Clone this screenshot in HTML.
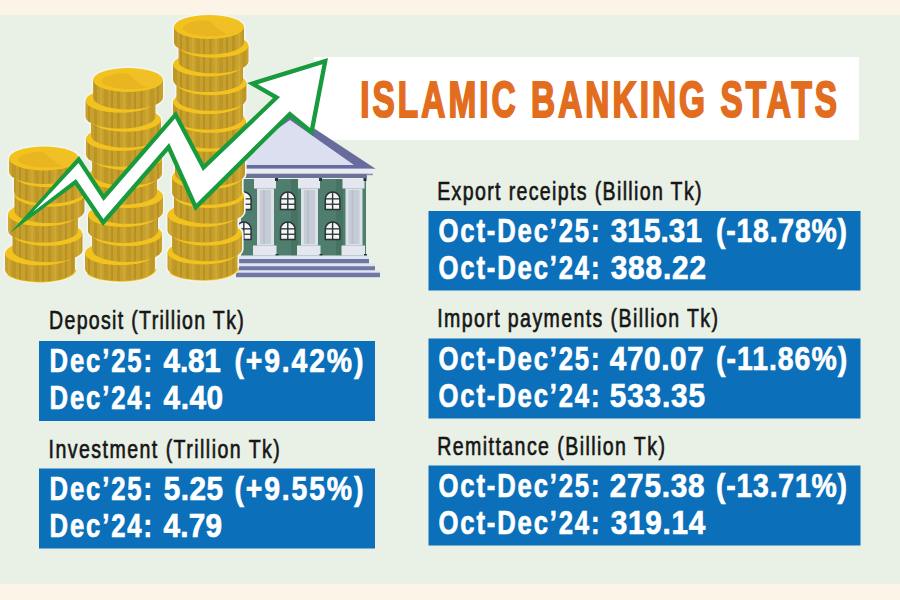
<!DOCTYPE html>
<html><head><meta charset="utf-8">
<style>
html,body{margin:0;padding:0;width:900px;height:600px;overflow:hidden;background:#e9f0e6;}
svg{display:block;}
.lab{font-family:"Liberation Sans",sans-serif;font-size:25.4px;fill:#161616;stroke:#161616;stroke-width:0.65px;}
.val{font-family:"Liberation Sans",sans-serif;font-weight:bold;font-size:33.8px;fill:#ffffff;stroke:#ffffff;stroke-width:0.7px;}
.ttl{font-family:"Liberation Sans",sans-serif;font-weight:bold;font-size:50.5px;fill:#e26d1e;stroke:#e26d1e;stroke-width:2.1px;}
</style></head>
<body>
<svg width="900" height="600" viewBox="0 0 900 600">
<rect x="0" y="0" width="900" height="600" fill="#e9f0e6"/>
<rect x="0" y="0" width="900" height="15" fill="#fdf4e8"/>
<rect x="0" y="584" width="900" height="16" fill="#fdf4e8"/>
<rect x="314" y="57" width="545" height="83" fill="#ffffff"/>
<rect x="39" y="341" width="336" height="80" fill="#0b6fb9"/>
<rect x="39" y="468.5" width="336" height="80" fill="#0b6fb9"/>
<rect x="428.5" y="211" width="432" height="79.5" fill="#0b6fb9"/>
<rect x="428.5" y="338.5" width="432" height="80" fill="#0b6fb9"/>
<rect x="428.5" y="465.5" width="432" height="80" fill="#0b6fb9"/>
<text class="lab" letter-spacing="1.710" transform="translate(49.03,329.30) scale(0.7700,1)">Deposit (Trillion Tk)</text>
<text class="lab" letter-spacing="1.896" transform="translate(48.53,457.50) scale(0.7700,1)">Investment (Trillion Tk)</text>
<text class="lab" letter-spacing="1.758" transform="translate(437.23,199.50) scale(0.7700,1)">Export receipts (Billion Tk)</text>
<text class="lab" letter-spacing="1.816" transform="translate(437.23,327.00) scale(0.7700,1)">Import payments (Billion Tk)</text>
<text class="lab" letter-spacing="1.855" transform="translate(437.23,454.50) scale(0.7700,1)">Remittance (Billion Tk)</text>
<text class="val" letter-spacing="2.452" transform="translate(49.54,372.20) scale(0.7600,1)">Dec’25:</text>
<text class="val" letter-spacing="-0.250" transform="translate(163.58,372.20) scale(0.8800,1)">4.81</text>
<text class="val" letter-spacing="2.207" transform="translate(234.40,372.20) scale(0.8400,1)">(+9.42%)</text>
<text class="val" letter-spacing="2.452" transform="translate(49.54,409.00) scale(0.7600,1)">Dec’24:</text>
<text class="val" letter-spacing="0.621" transform="translate(163.58,409.00) scale(0.8800,1)">4.40</text>
<text class="val" letter-spacing="2.452" transform="translate(49.54,500.00) scale(0.7600,1)">Dec’25:</text>
<text class="val" letter-spacing="0.576" transform="translate(163.70,500.00) scale(0.8800,1)">5.25</text>
<text class="val" letter-spacing="2.207" transform="translate(234.40,500.00) scale(0.8400,1)">(+9.55%)</text>
<text class="val" letter-spacing="2.452" transform="translate(49.54,536.70) scale(0.7600,1)">Dec’24:</text>
<text class="val" letter-spacing="0.205" transform="translate(163.58,536.70) scale(0.8800,1)">4.79</text>
<text class="val" letter-spacing="2.413" transform="translate(438.50,242.20) scale(0.7600,1)">Oct-Dec’25:</text>
<text class="val" letter-spacing="0.068" transform="translate(610.68,242.20) scale(0.8800,1)">315.31</text>
<text class="val" letter-spacing="0.949" transform="translate(716.00,242.20) scale(0.8400,1)">(-18.78%)</text>
<text class="val" letter-spacing="2.413" transform="translate(438.50,279.00) scale(0.7600,1)">Oct-Dec’24:</text>
<text class="val" letter-spacing="0.995" transform="translate(610.68,279.00) scale(0.8800,1)">388.22</text>
<text class="val" letter-spacing="2.413" transform="translate(438.50,370.00) scale(0.7600,1)">Oct-Dec’25:</text>
<text class="val" letter-spacing="0.700" transform="translate(609.78,370.00) scale(0.8800,1)">470.07</text>
<text class="val" letter-spacing="1.199" transform="translate(716.00,370.00) scale(0.8400,1)">(-11.86%)</text>
<text class="val" letter-spacing="2.413" transform="translate(438.50,406.70) scale(0.7600,1)">Oct-Dec’24:</text>
<text class="val" letter-spacing="0.973" transform="translate(609.80,406.70) scale(0.8800,1)">533.35</text>
<text class="val" letter-spacing="2.413" transform="translate(438.50,497.00) scale(0.7600,1)">Oct-Dec’25:</text>
<text class="val" letter-spacing="0.859" transform="translate(609.80,497.00) scale(0.8800,1)">275.38</text>
<text class="val" letter-spacing="0.949" transform="translate(716.00,497.00) scale(0.8400,1)">(-13.71%)</text>
<text class="val" letter-spacing="2.413" transform="translate(438.50,533.70) scale(0.7600,1)">Oct-Dec’24:</text>
<text class="val" letter-spacing="0.823" transform="translate(610.68,533.70) scale(0.8800,1)">319.14</text>
<text class="ttl" letter-spacing="4.673" transform="translate(360.18,117.20) scale(0.6600,1)">ISLAMIC BANKING STATS</text>
<defs>
<pattern id="stripes" patternUnits="userSpaceOnUse" width="23" height="40">
<rect width="23" height="40" fill="#c8a02c"/>
<rect x="2" width="3" height="40" fill="#bb9427"/>
<rect x="8" width="2" height="40" fill="#d0a833"/>
<rect x="12" width="4" height="40" fill="#be9729"/>
<rect x="19" width="2" height="40" fill="#b89126"/>
</pattern>
</defs>
<polygon points="290,112.5 375.5,168.8 204.5,168.8" fill="#686c9c"/>
<polygon points="290,120 354,165 226,165" fill="#dcdff0"/>
<rect x="236" y="168.8" width="136.5" height="4.9" fill="#e8eaf4"/>
<rect x="241" y="173.7" width="126" height="4.3" fill="#6b7398"/><rect x="366" y="173.7" width="7" height="1.5" fill="#8a90ad"/>
<rect x="241" y="179" width="125" height="78" fill="#4f7e6e"/>
<rect x="291" y="179" width="7" height="78" fill="#477363"/>
<rect x="336" y="179" width="7" height="78" fill="#477363"/>
<path d="M236.5,209.5 L236.5,199.3 A7.3,7.3 0 0 1 251.1,199.3 L251.1,209.5 Z" fill="#f4f5f5" stroke="#2a3438" stroke-width="1.5"/><rect x="243.10000000000002" y="192" width="1.4" height="17.5" fill="#2a3438"/><rect x="236.5" y="198.2" width="14.6" height="1.3" fill="#2a3438"/><rect x="236.5" y="203.6" width="14.6" height="1.3" fill="#2a3438"/>
<path d="M236.5,239.5 L236.5,229.3 A7.3,7.3 0 0 1 251.1,229.3 L251.1,239.5 Z" fill="#f4f5f5" stroke="#2a3438" stroke-width="1.5"/><rect x="243.10000000000002" y="222" width="1.4" height="17.5" fill="#2a3438"/><rect x="236.5" y="228.2" width="14.6" height="1.3" fill="#2a3438"/><rect x="236.5" y="233.6" width="14.6" height="1.3" fill="#2a3438"/>
<path d="M280.5,209.5 L280.5,199.3 A7.3,7.3 0 0 1 295.1,199.3 L295.1,209.5 Z" fill="#f4f5f5" stroke="#2a3438" stroke-width="1.5"/><rect x="287.1" y="192" width="1.4" height="17.5" fill="#2a3438"/><rect x="280.5" y="198.2" width="14.6" height="1.3" fill="#2a3438"/><rect x="280.5" y="203.6" width="14.6" height="1.3" fill="#2a3438"/>
<path d="M280.5,239.5 L280.5,229.3 A7.3,7.3 0 0 1 295.1,229.3 L295.1,239.5 Z" fill="#f4f5f5" stroke="#2a3438" stroke-width="1.5"/><rect x="287.1" y="222" width="1.4" height="17.5" fill="#2a3438"/><rect x="280.5" y="228.2" width="14.6" height="1.3" fill="#2a3438"/><rect x="280.5" y="233.6" width="14.6" height="1.3" fill="#2a3438"/>
<path d="M325.3,209.5 L325.3,199.3 A7.3,7.3 0 0 1 339.90000000000003,199.3 L339.90000000000003,209.5 Z" fill="#f4f5f5" stroke="#2a3438" stroke-width="1.5"/><rect x="331.90000000000003" y="192" width="1.4" height="17.5" fill="#2a3438"/><rect x="325.3" y="198.2" width="14.6" height="1.3" fill="#2a3438"/><rect x="325.3" y="203.6" width="14.6" height="1.3" fill="#2a3438"/>
<path d="M325.3,239.5 L325.3,229.3 A7.3,7.3 0 0 1 339.90000000000003,229.3 L339.90000000000003,239.5 Z" fill="#f4f5f5" stroke="#2a3438" stroke-width="1.5"/><rect x="331.90000000000003" y="222" width="1.4" height="17.5" fill="#2a3438"/><rect x="325.3" y="228.2" width="14.6" height="1.3" fill="#2a3438"/><rect x="325.3" y="233.6" width="14.6" height="1.3" fill="#2a3438"/>
<rect x="209.5" y="179" width="22" height="9.5" fill="#e4e7ef"/>
<rect x="212.5" y="188.5" width="17" height="57" fill="#dde2ea"/>
<rect x="215.5" y="190" width="11" height="54" fill="#c5ccd6"/>
<rect x="218.5" y="190" width="2" height="54" fill="#b9c1cc"/>
<rect x="208.5" y="245.5" width="23.5" height="10" fill="#e4e7ef"/>
<rect x="230.5" y="178" width="3" height="3" fill="#26303a"/>
<rect x="231.0" y="254" width="3" height="3" fill="#26303a"/>
<rect x="254" y="179" width="22" height="9.5" fill="#e4e7ef"/>
<rect x="257" y="188.5" width="17" height="57" fill="#dde2ea"/>
<rect x="260" y="190" width="11" height="54" fill="#c5ccd6"/>
<rect x="263" y="190" width="2" height="54" fill="#b9c1cc"/>
<rect x="253" y="245.5" width="23.5" height="10" fill="#e4e7ef"/>
<rect x="275" y="178" width="3" height="3" fill="#26303a"/>
<rect x="275.5" y="254" width="3" height="3" fill="#26303a"/>
<rect x="298" y="179" width="22" height="9.5" fill="#e4e7ef"/>
<rect x="301" y="188.5" width="17" height="57" fill="#dde2ea"/>
<rect x="304" y="190" width="11" height="54" fill="#c5ccd6"/>
<rect x="307" y="190" width="2" height="54" fill="#b9c1cc"/>
<rect x="297" y="245.5" width="23.5" height="10" fill="#e4e7ef"/>
<rect x="319" y="178" width="3" height="3" fill="#26303a"/>
<rect x="319.5" y="254" width="3" height="3" fill="#26303a"/>
<rect x="342.5" y="179" width="22" height="9.5" fill="#e4e7ef"/>
<rect x="345.5" y="188.5" width="17" height="57" fill="#dde2ea"/>
<rect x="348.5" y="190" width="11" height="54" fill="#c5ccd6"/>
<rect x="351.5" y="190" width="2" height="54" fill="#b9c1cc"/>
<rect x="341.5" y="245.5" width="23.5" height="10" fill="#e4e7ef"/>
<rect x="363.5" y="178" width="3" height="3" fill="#26303a"/>
<rect x="364.0" y="254" width="3" height="3" fill="#26303a"/>
<rect x="236" y="255.5" width="133" height="3.5" fill="#dfe5f1"/>
<rect x="236" y="259" width="133" height="4.5" fill="#6f78a4"/>
<rect x="236" y="263.5" width="139" height="2.7" fill="#dfe5f1"/>
<rect x="236" y="266.2" width="139" height="4.3" fill="#6f78a4"/>
<rect x="236" y="270.5" width="144" height="2.2" fill="#dfe5f1"/>
<rect x="236" y="272.7" width="144" height="4.5" fill="#6f78a4"/>
<path d="M9,158.5 L9,172.0 A35,12 0 0 0 79,172.0 L79,158.5 A35,12 0 0 0 9,158.5 Z" fill="#f3f6f1" stroke="#f3f6f1" stroke-width="3.2"/>
<path d="M14,175.2 L14,191.54 A35,12 0 0 0 84,191.54 L84,175.2 A35,12 0 0 0 14,175.2 Z" fill="#f3f6f1" stroke="#f3f6f1" stroke-width="3.2"/>
<path d="M14.5,194.74 L14.5,211.08 A35,12 0 0 0 84.5,211.08 L84.5,194.74 A35,12 0 0 0 14.5,194.74 Z" fill="#f3f6f1" stroke="#f3f6f1" stroke-width="3.2"/>
<path d="M8,214.28 L8,230.62 A35,12 0 0 0 78,230.62 L78,214.28 A35,12 0 0 0 8,214.28 Z" fill="#f3f6f1" stroke="#f3f6f1" stroke-width="3.2"/>
<path d="M12.5,233.82 L12.5,250.16 A35,12 0 0 0 82.5,250.16 L82.5,233.82 A35,12 0 0 0 12.5,233.82 Z" fill="#f3f6f1" stroke="#f3f6f1" stroke-width="3.2"/>
<path d="M5,253.36 L5,269.7 A35,12 0 0 0 75,269.7 L75,253.36 A35,12 0 0 0 5,253.36 Z" fill="#f3f6f1" stroke="#f3f6f1" stroke-width="3.2"/>
<path d="M8,273.7 A35,12 0 0 0 75,269.7" fill="none" stroke="#f0c31e" stroke-width="3"/>
<path d="M5,253.36 L5,269.7 A35,12 0 0 0 75,269.7 L75,253.36 Z" fill="url(#stripes)"/>
<ellipse cx="40" cy="253.36" rx="35" ry="12" fill="#f2c31e"/>
<path d="M12.5,233.82 L12.5,250.16 A35,12 0 0 0 82.5,250.16 L82.5,233.82 Z" fill="url(#stripes)"/>
<ellipse cx="47.5" cy="233.82" rx="35" ry="12" fill="#f2c31e"/>
<path d="M8,214.28 L8,230.62 A35,12 0 0 0 78,230.62 L78,214.28 Z" fill="url(#stripes)"/>
<ellipse cx="43" cy="214.28" rx="35" ry="12" fill="#f2c31e"/>
<path d="M14.5,194.74 L14.5,211.08 A35,12 0 0 0 84.5,211.08 L84.5,194.74 Z" fill="url(#stripes)"/>
<ellipse cx="49.5" cy="194.74" rx="35" ry="12" fill="#f2c31e"/>
<path d="M14,175.2 L14,191.54 A35,12 0 0 0 84,191.54 L84,175.2 Z" fill="url(#stripes)"/>
<ellipse cx="49" cy="175.2" rx="35" ry="12" fill="#f2c31e"/>
<path d="M9,158.5 L9,172.0 A35,12 0 0 0 79,172.0 L79,158.5 Z" fill="url(#stripes)"/>
<ellipse cx="44" cy="158.5" rx="35" ry="12" fill="#f2c31e"/>
<clipPath id="cc44"><ellipse cx="46.5" cy="159.5" rx="29" ry="8"/></clipPath>
<ellipse cx="46.5" cy="159.5" rx="29" ry="8" fill="#e9b622"/>
<path clip-path="url(#cc44)" d="M38,146.5 Q52,161.5 70,170.5 L84,170.5 L84,146.5 Z" fill="#f1c026"/>
<path d="M93,80 L93,97.5 A35,12 0 0 0 163,97.5 L163,80 A35,12 0 0 0 93,80 Z" fill="#f3f6f1" stroke="#f3f6f1" stroke-width="3.2"/>
<path d="M85.5,100.7 L85.5,116.56 A35,12 0 0 0 155.5,116.56 L155.5,100.7 A35,12 0 0 0 85.5,100.7 Z" fill="#f3f6f1" stroke="#f3f6f1" stroke-width="3.2"/>
<path d="M91,119.75999999999999 L91,135.62 A35,12 0 0 0 161,135.62 L161,119.75999999999999 A35,12 0 0 0 91,119.75999999999999 Z" fill="#f3f6f1" stroke="#f3f6f1" stroke-width="3.2"/>
<path d="M86,138.81 L86,154.67000000000002 A35,12 0 0 0 156,154.67000000000002 L156,138.81 A35,12 0 0 0 86,138.81 Z" fill="#f3f6f1" stroke="#f3f6f1" stroke-width="3.2"/>
<path d="M92,157.87 L92,173.73000000000002 A35,12 0 0 0 162,173.73000000000002 L162,157.87 A35,12 0 0 0 92,157.87 Z" fill="#f3f6f1" stroke="#f3f6f1" stroke-width="3.2"/>
<path d="M87,176.92 L87,192.77999999999997 A35,12 0 0 0 157,192.77999999999997 L157,176.92 A35,12 0 0 0 87,176.92 Z" fill="#f3f6f1" stroke="#f3f6f1" stroke-width="3.2"/>
<path d="M93,195.98 L93,211.83999999999997 A35,12 0 0 0 163,211.83999999999997 L163,195.98 A35,12 0 0 0 93,195.98 Z" fill="#f3f6f1" stroke="#f3f6f1" stroke-width="3.2"/>
<path d="M88,215.03 L88,230.89 A35,12 0 0 0 158,230.89 L158,215.03 A35,12 0 0 0 88,215.03 Z" fill="#f3f6f1" stroke="#f3f6f1" stroke-width="3.2"/>
<path d="M92,234.09 L92,249.95 A35,12 0 0 0 162,249.95 L162,234.09 A35,12 0 0 0 92,234.09 Z" fill="#f3f6f1" stroke="#f3f6f1" stroke-width="3.2"/>
<path d="M85,253.14 L85,269.0 A35,12 0 0 0 155,269.0 L155,253.14 A35,12 0 0 0 85,253.14 Z" fill="#f3f6f1" stroke="#f3f6f1" stroke-width="3.2"/>
<path d="M88,273.0 A35,12 0 0 0 155,269.0" fill="none" stroke="#f0c31e" stroke-width="3"/>
<path d="M85,253.14 L85,269.0 A35,12 0 0 0 155,269.0 L155,253.14 Z" fill="url(#stripes)"/>
<ellipse cx="120" cy="253.14" rx="35" ry="12" fill="#f2c31e"/>
<path d="M92,234.09 L92,249.95 A35,12 0 0 0 162,249.95 L162,234.09 Z" fill="url(#stripes)"/>
<ellipse cx="127" cy="234.09" rx="35" ry="12" fill="#f2c31e"/>
<path d="M88,215.03 L88,230.89 A35,12 0 0 0 158,230.89 L158,215.03 Z" fill="url(#stripes)"/>
<ellipse cx="123" cy="215.03" rx="35" ry="12" fill="#f2c31e"/>
<path d="M93,195.98 L93,211.83999999999997 A35,12 0 0 0 163,211.83999999999997 L163,195.98 Z" fill="url(#stripes)"/>
<ellipse cx="128" cy="195.98" rx="35" ry="12" fill="#f2c31e"/>
<path d="M87,176.92 L87,192.77999999999997 A35,12 0 0 0 157,192.77999999999997 L157,176.92 Z" fill="url(#stripes)"/>
<ellipse cx="122" cy="176.92" rx="35" ry="12" fill="#f2c31e"/>
<path d="M92,157.87 L92,173.73000000000002 A35,12 0 0 0 162,173.73000000000002 L162,157.87 Z" fill="url(#stripes)"/>
<ellipse cx="127" cy="157.87" rx="35" ry="12" fill="#f2c31e"/>
<path d="M86,138.81 L86,154.67000000000002 A35,12 0 0 0 156,154.67000000000002 L156,138.81 Z" fill="url(#stripes)"/>
<ellipse cx="121" cy="138.81" rx="35" ry="12" fill="#f2c31e"/>
<path d="M91,119.75999999999999 L91,135.62 A35,12 0 0 0 161,135.62 L161,119.75999999999999 Z" fill="url(#stripes)"/>
<ellipse cx="126" cy="119.75999999999999" rx="35" ry="12" fill="#f2c31e"/>
<path d="M85.5,100.7 L85.5,116.56 A35,12 0 0 0 155.5,116.56 L155.5,100.7 Z" fill="url(#stripes)"/>
<ellipse cx="120.5" cy="100.7" rx="35" ry="12" fill="#f2c31e"/>
<path d="M93,80 L93,97.5 A35,12 0 0 0 163,97.5 L163,80 Z" fill="url(#stripes)"/>
<ellipse cx="128" cy="80" rx="35" ry="12" fill="#f2c31e"/>
<clipPath id="cc128"><ellipse cx="130.5" cy="81" rx="29" ry="8"/></clipPath>
<ellipse cx="130.5" cy="81" rx="29" ry="8" fill="#e9b622"/>
<path clip-path="url(#cc128)" d="M122,68 Q136,83 154,92 L168,92 L168,68 Z" fill="#f1c026"/>
<path d="M174,27 L174,42.5 A35,12 0 0 0 244,42.5 L244,27 A35,12 0 0 0 174,27 Z" fill="#f3f6f1" stroke="#f3f6f1" stroke-width="3.2"/>
<path d="M178.5,45.7 L178.5,61.290000000000006 A35,12 0 0 0 248.5,61.290000000000006 L248.5,45.7 A35,12 0 0 0 178.5,45.7 Z" fill="#f3f6f1" stroke="#f3f6f1" stroke-width="3.2"/>
<path d="M173,64.49 L173,80.08 A35,12 0 0 0 243,80.08 L243,64.49 A35,12 0 0 0 173,64.49 Z" fill="#f3f6f1" stroke="#f3f6f1" stroke-width="3.2"/>
<path d="M176.5,83.28 L176.5,98.87 A35,12 0 0 0 246.5,98.87 L246.5,83.28 A35,12 0 0 0 176.5,83.28 Z" fill="#f3f6f1" stroke="#f3f6f1" stroke-width="3.2"/>
<path d="M173,102.08 L173,117.67 A35,12 0 0 0 243,117.67 L243,102.08 A35,12 0 0 0 173,102.08 Z" fill="#f3f6f1" stroke="#f3f6f1" stroke-width="3.2"/>
<path d="M176,120.87 L176,136.46 A35,12 0 0 0 246,136.46 L246,120.87 A35,12 0 0 0 176,120.87 Z" fill="#f3f6f1" stroke="#f3f6f1" stroke-width="3.2"/>
<path d="M172,139.66 L172,155.25 A35,12 0 0 0 242,155.25 L242,139.66 A35,12 0 0 0 172,139.66 Z" fill="#f3f6f1" stroke="#f3f6f1" stroke-width="3.2"/>
<path d="M175,158.45 L175,174.04 A35,12 0 0 0 245,174.04 L245,158.45 A35,12 0 0 0 175,158.45 Z" fill="#f3f6f1" stroke="#f3f6f1" stroke-width="3.2"/>
<path d="M172,177.24 L172,192.83 A35,12 0 0 0 242,192.83 L242,177.24 A35,12 0 0 0 172,177.24 Z" fill="#f3f6f1" stroke="#f3f6f1" stroke-width="3.2"/>
<path d="M174,196.03 L174,211.62 A35,12 0 0 0 244,211.62 L244,196.03 A35,12 0 0 0 174,196.03 Z" fill="#f3f6f1" stroke="#f3f6f1" stroke-width="3.2"/>
<path d="M167.5,214.83 L167.5,230.42000000000002 A35,12 0 0 0 237.5,230.42000000000002 L237.5,214.83 A35,12 0 0 0 167.5,214.83 Z" fill="#f3f6f1" stroke="#f3f6f1" stroke-width="3.2"/>
<path d="M172,233.62 L172,249.21 A35,12 0 0 0 242,249.21 L242,233.62 A35,12 0 0 0 172,233.62 Z" fill="#f3f6f1" stroke="#f3f6f1" stroke-width="3.2"/>
<path d="M167.5,252.41000000000003 L167.5,268.0 A35,12 0 0 0 237.5,268.0 L237.5,252.41000000000003 A35,12 0 0 0 167.5,252.41000000000003 Z" fill="#f3f6f1" stroke="#f3f6f1" stroke-width="3.2"/>
<path d="M170.5,272.0 A35,12 0 0 0 237.5,268.0" fill="none" stroke="#f0c31e" stroke-width="3"/>
<path d="M167.5,252.41000000000003 L167.5,268.0 A35,12 0 0 0 237.5,268.0 L237.5,252.41000000000003 Z" fill="url(#stripes)"/>
<ellipse cx="202.5" cy="252.41000000000003" rx="35" ry="12" fill="#f2c31e"/>
<path d="M172,233.62 L172,249.21 A35,12 0 0 0 242,249.21 L242,233.62 Z" fill="url(#stripes)"/>
<ellipse cx="207" cy="233.62" rx="35" ry="12" fill="#f2c31e"/>
<path d="M167.5,214.83 L167.5,230.42000000000002 A35,12 0 0 0 237.5,230.42000000000002 L237.5,214.83 Z" fill="url(#stripes)"/>
<ellipse cx="202.5" cy="214.83" rx="35" ry="12" fill="#f2c31e"/>
<path d="M174,196.03 L174,211.62 A35,12 0 0 0 244,211.62 L244,196.03 Z" fill="url(#stripes)"/>
<ellipse cx="209" cy="196.03" rx="35" ry="12" fill="#f2c31e"/>
<path d="M172,177.24 L172,192.83 A35,12 0 0 0 242,192.83 L242,177.24 Z" fill="url(#stripes)"/>
<ellipse cx="207" cy="177.24" rx="35" ry="12" fill="#f2c31e"/>
<path d="M175,158.45 L175,174.04 A35,12 0 0 0 245,174.04 L245,158.45 Z" fill="url(#stripes)"/>
<ellipse cx="210" cy="158.45" rx="35" ry="12" fill="#f2c31e"/>
<path d="M172,139.66 L172,155.25 A35,12 0 0 0 242,155.25 L242,139.66 Z" fill="url(#stripes)"/>
<ellipse cx="207" cy="139.66" rx="35" ry="12" fill="#f2c31e"/>
<path d="M176,120.87 L176,136.46 A35,12 0 0 0 246,136.46 L246,120.87 Z" fill="url(#stripes)"/>
<ellipse cx="211" cy="120.87" rx="35" ry="12" fill="#f2c31e"/>
<path d="M173,102.08 L173,117.67 A35,12 0 0 0 243,117.67 L243,102.08 Z" fill="url(#stripes)"/>
<ellipse cx="208" cy="102.08" rx="35" ry="12" fill="#f2c31e"/>
<path d="M176.5,83.28 L176.5,98.87 A35,12 0 0 0 246.5,98.87 L246.5,83.28 Z" fill="url(#stripes)"/>
<ellipse cx="211.5" cy="83.28" rx="35" ry="12" fill="#f2c31e"/>
<path d="M173,64.49 L173,80.08 A35,12 0 0 0 243,80.08 L243,64.49 Z" fill="url(#stripes)"/>
<ellipse cx="208" cy="64.49" rx="35" ry="12" fill="#f2c31e"/>
<path d="M178.5,45.7 L178.5,61.290000000000006 A35,12 0 0 0 248.5,61.290000000000006 L248.5,45.7 Z" fill="url(#stripes)"/>
<ellipse cx="213.5" cy="45.7" rx="35" ry="12" fill="#f2c31e"/>
<path d="M174,27 L174,42.5 A35,12 0 0 0 244,42.5 L244,27 Z" fill="url(#stripes)"/>
<ellipse cx="209" cy="27" rx="35" ry="12" fill="#f2c31e"/>
<clipPath id="cc209"><ellipse cx="211.5" cy="28" rx="29" ry="8"/></clipPath>
<ellipse cx="211.5" cy="28" rx="29" ry="8" fill="#e9b622"/>
<path clip-path="url(#cc209)" d="M203,15 Q217,30 235,39 L249,39 L249,15 Z" fill="#f1c026"/>
<polygon points="10,233 79,156 104,194 176,111 204,164 273,98 247,83 328,58 313,136 290,117 195,211 168,151 103,226 75,185" fill="#189a3e"/>
<polygon points="33,212 76.0,178.9 103.4,219.0 169.2,143.1 196.4,203.6 289.7,111.2 310.1,128.1 322.4,64.2 257.7,84.2 280.1,97.1 202.9,171.0 175.1,118.6 103.5,201.1 78.5,163.0" fill="#ffffff"/>
</svg>
</body></html>
